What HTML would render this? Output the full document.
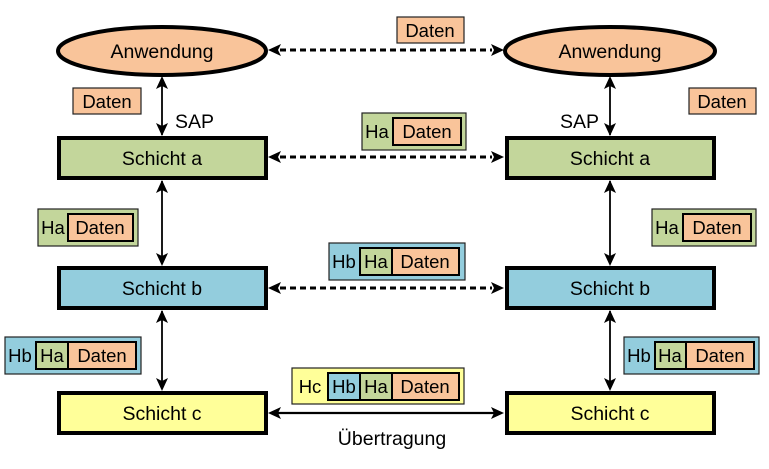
<!DOCTYPE html>
<html><head><meta charset="utf-8"><style>
html,body{margin:0;padding:0;background:#fff;}
svg{display:block;}
text{font-family:"Liberation Sans",Arial,sans-serif;fill:#000;}
</style></head><body>
<svg width="769" height="469" viewBox="0 0 769 469" xmlns="http://www.w3.org/2000/svg">
<style>
.t16{font-size:19.5px;}
.t15{font-size:18.5px;}
.bx{stroke:#000;stroke-width:4;}
.sm{stroke:#222;stroke-width:1.2;}
.in{stroke:#000;stroke-width:2;}
</style>
<g fill="#000">
<line x1="162" y1="78" x2="162" y2="135" stroke="#000" stroke-width="1.8"/>
<path d="M162,76 l-6,13 l6,-3 l6,3z"/><path d="M162,136 l-6,-13 l6,3 l6,-3z"/>
<line x1="162" y1="181" x2="162" y2="264" stroke="#000" stroke-width="1.8"/>
<path d="M162,180 l-6,13 l6,-3 l6,3z"/><path d="M162,266 l-6,-13 l6,3 l6,-3z"/>
<line x1="162" y1="311" x2="162" y2="389" stroke="#000" stroke-width="1.8"/>
<path d="M162,310 l-6,13 l6,-3 l6,3z"/><path d="M162,391 l-6,-13 l6,3 l6,-3z"/>
<line x1="610" y1="78" x2="610" y2="135" stroke="#000" stroke-width="1.8"/>
<path d="M610,76 l-6,13 l6,-3 l6,3z"/><path d="M610,136 l-6,-13 l6,3 l6,-3z"/>
<line x1="610" y1="181" x2="610" y2="264" stroke="#000" stroke-width="1.8"/>
<path d="M610,180 l-6,13 l6,-3 l6,3z"/><path d="M610,266 l-6,-13 l6,3 l6,-3z"/>
<line x1="610" y1="311" x2="610" y2="389" stroke="#000" stroke-width="1.8"/>
<path d="M610,310 l-6,13 l6,-3 l6,3z"/><path d="M610,391 l-6,-13 l6,3 l6,-3z"/>
<line x1="280" y1="50" x2="492" y2="50" stroke="#000" stroke-width="3" stroke-dasharray="6,4"/>
<path d="M268,50 l13,-6 l-3,6 l3,6z"/><path d="M504,50 l-13,-6 l3,6 l-3,6z"/>
<line x1="280" y1="157" x2="492" y2="157" stroke="#000" stroke-width="3" stroke-dasharray="6,4"/>
<path d="M268,157 l13,-6 l-3,6 l3,6z"/><path d="M504,157 l-13,-6 l3,6 l-3,6z"/>
<line x1="280" y1="288" x2="492" y2="288" stroke="#000" stroke-width="3" stroke-dasharray="6,4"/>
<path d="M268,288 l13,-6 l-3,6 l3,6z"/><path d="M504,288 l-13,-6 l3,6 l-3,6z"/>
<line x1="278" y1="413" x2="494" y2="413" stroke="#000" stroke-width="2.2"/>
<path d="M268,413 l13,-6 l-3,6 l3,6z"/><path d="M504,413 l-13,-6 l3,6 l-3,6z"/>
</g>
<ellipse cx="162" cy="51" rx="104" ry="24" fill="#f9c49a" class="bx"/>
<text x="162" y="58" text-anchor="middle" class="t16">Anwendung</text>
<ellipse cx="610" cy="51" rx="105" ry="24" fill="#f9c49a" class="bx"/>
<text x="610" y="58" text-anchor="middle" class="t16">Anwendung</text>

<rect x="59" y="138" width="207" height="40" fill="#c3d69b" class="bx"/>
<text x="162" y="165" text-anchor="middle" class="t16">Schicht a</text>
<rect x="507" y="138" width="207" height="40" fill="#c3d69b" class="bx"/>
<text x="610" y="165" text-anchor="middle" class="t16">Schicht a</text>

<rect x="59" y="268" width="207" height="40" fill="#93cddd" class="bx"/>
<text x="162" y="295" text-anchor="middle" class="t16">Schicht b</text>
<rect x="507" y="268" width="207" height="40" fill="#93cddd" class="bx"/>
<text x="610" y="295" text-anchor="middle" class="t16">Schicht b</text>

<rect x="59" y="393" width="207" height="40" fill="#ffff99" class="bx"/>
<text x="162" y="420" text-anchor="middle" class="t16">Schicht c</text>
<rect x="507" y="393" width="207" height="40" fill="#ffff99" class="bx"/>
<text x="610" y="420" text-anchor="middle" class="t16">Schicht c</text>

<text x="175" y="128" class="t16">SAP</text>
<text x="560" y="128" class="t16">SAP</text>
<text x="392" y="445" text-anchor="middle" class="t16">Übertragung</text>

<rect x="73" y="88" width="68" height="26" fill="#f9c49a" class="sm"/>
<text x="107" y="108" text-anchor="middle" class="t15">Daten</text>
<rect x="689" y="88" width="67" height="26" fill="#f9c49a" class="sm"/>
<text x="722" y="108" text-anchor="middle" class="t15">Daten</text>
<rect x="397" y="17" width="67" height="26" fill="#f9c49a" class="sm"/>
<text x="430" y="37" text-anchor="middle" class="t15">Daten</text>

<rect x="38" y="209" width="100" height="37" fill="#c3d69b" class="sm"/>
<text x="53" y="234" text-anchor="middle" class="t15">Ha</text>
<rect x="68" y="214" width="65" height="27" fill="#f9c49a" class="in"/>
<text x="100" y="234" text-anchor="middle" class="t15">Daten</text>

<rect x="362" y="113" width="104" height="37" fill="#c3d69b" class="sm"/>
<text x="377" y="138" text-anchor="middle" class="t15">Ha</text>
<rect x="393" y="118" width="68" height="27" fill="#f9c49a" class="in"/>
<text x="427" y="138" text-anchor="middle" class="t15">Daten</text>

<rect x="652" y="209" width="104" height="37" fill="#c3d69b" class="sm"/>
<text x="667" y="234" text-anchor="middle" class="t15">Ha</text>
<rect x="683" y="214" width="68" height="27" fill="#f9c49a" class="in"/>
<text x="717" y="234" text-anchor="middle" class="t15">Daten</text>

<rect x="5" y="337" width="136" height="37" fill="#93cddd" class="sm"/>
<text x="20" y="362" text-anchor="middle" class="t15">Hb</text>
<rect x="36" y="342" width="32" height="27" fill="#c3d69b" class="in"/>
<text x="52" y="362" text-anchor="middle" class="t15">Ha</text>
<rect x="68" y="342" width="68" height="27" fill="#f9c49a" class="in"/>
<text x="102" y="362" text-anchor="middle" class="t15">Daten</text>

<rect x="329" y="243" width="136" height="37" fill="#93cddd" class="sm"/>
<text x="344" y="268" text-anchor="middle" class="t15">Hb</text>
<rect x="360" y="248" width="32" height="27" fill="#c3d69b" class="in"/>
<text x="376" y="268" text-anchor="middle" class="t15">Ha</text>
<rect x="392" y="248" width="67" height="27" fill="#f9c49a" class="in"/>
<text x="425" y="268" text-anchor="middle" class="t15">Daten</text>

<rect x="624" y="337" width="135" height="37" fill="#93cddd" class="sm"/>
<text x="639" y="362" text-anchor="middle" class="t15">Hb</text>
<rect x="655" y="342" width="31" height="27" fill="#c3d69b" class="in"/>
<text x="670" y="362" text-anchor="middle" class="t15">Ha</text>
<rect x="686" y="342" width="68" height="27" fill="#f9c49a" class="in"/>
<text x="720" y="362" text-anchor="middle" class="t15">Daten</text>

<rect x="292" y="368" width="172" height="36" fill="#ffff99" class="sm"/>
<text x="310" y="393" text-anchor="middle" class="t15">Hc</text>
<rect x="328" y="373" width="32" height="27" fill="#93cddd" class="in"/>
<text x="344" y="393" text-anchor="middle" class="t15">Hb</text>
<rect x="360" y="373" width="32" height="27" fill="#c3d69b" class="in"/>
<text x="376" y="393" text-anchor="middle" class="t15">Ha</text>
<rect x="392" y="373" width="67" height="27" fill="#f9c49a" class="in"/>
<text x="425" y="393" text-anchor="middle" class="t15">Daten</text>
</svg>
</body></html>
